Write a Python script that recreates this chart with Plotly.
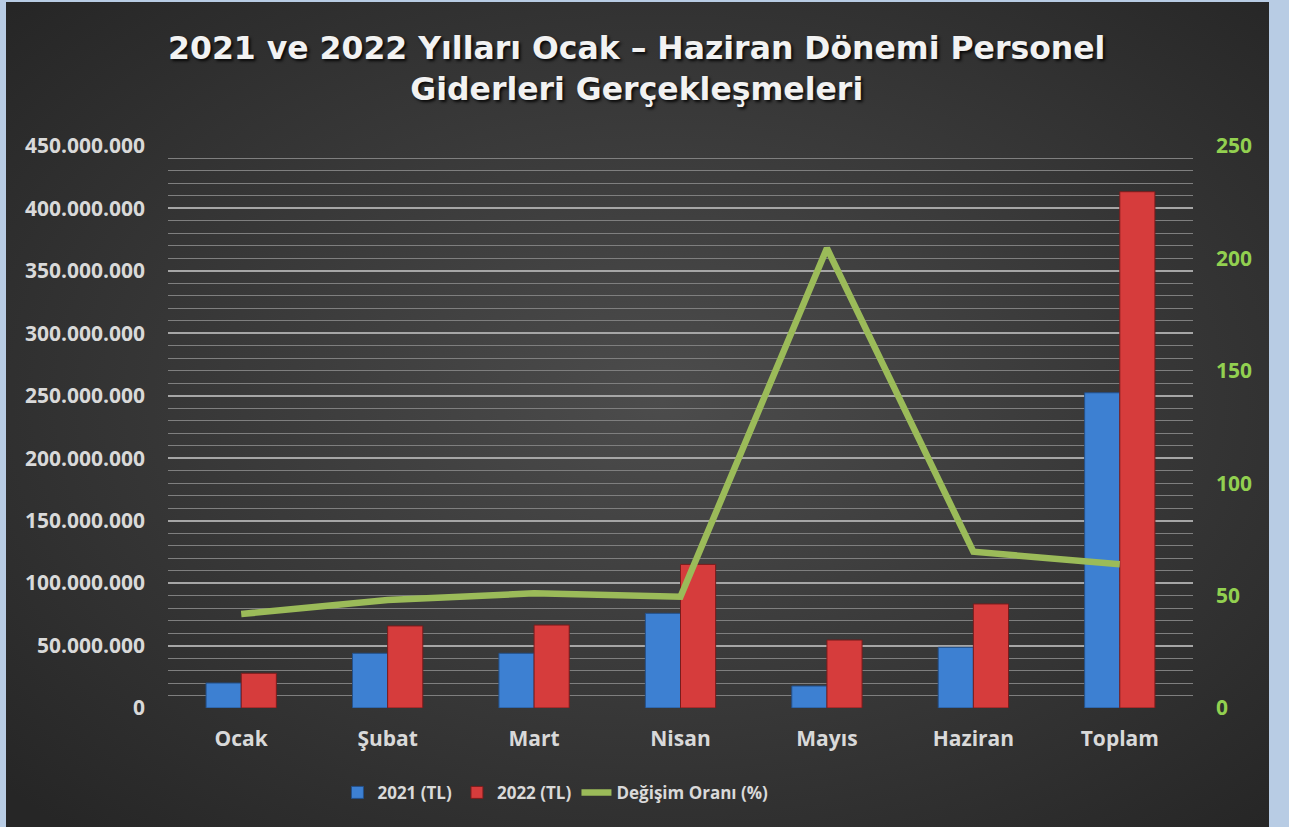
import base64
import plotly.graph_objects as go

categories = ["Ocak", "Şubat", "Mart", "Nisan", "Mayıs", "Haziran", "Toplam"]
values_2021 = [20_000_000, 43_800_000, 43_800_000, 75_800_000, 17_600_000, 48_600_000, 252_400_000]
values_2022 = [27_800_000, 65_700_000, 66_400_000, 115_000_000, 54_400_000, 83_300_000, 413_400_000]
change_pct = [41.8, 48.0, 51.0, 49.5, 204.5, 69.5, 63.9]

W, H = 1289, 827
L, R, T, B = 168, 96, 146, 119
pw, ph = W - L - R, H - T - B

svg = '''<svg xmlns="http://www.w3.org/2000/svg" width="1263" height="830" viewBox="0 0 1263 830">
<defs><radialGradient id="g" cx="52%" cy="48%" r="70%">
<stop offset="0%" stop-color="#4c4c4c"/><stop offset="100%" stop-color="#262626"/></radialGradient></defs>
<rect width="1263" height="830" fill="url(#g)"/></svg>'''
bg_uri = "data:image/svg+xml;base64," + base64.b64encode(svg.encode()).decode()

fig = go.Figure()
fig.add_trace(go.Bar(
    x=categories, y=values_2021, name="2021 (TL)",
    marker=dict(color="#3d80d2", line=dict(color="#24508a", width=1)),
))
fig.add_trace(go.Bar(
    x=categories, y=values_2022, name="2022 (TL)",
    marker=dict(color="#d63c3c", line=dict(color="#7a1c1c", width=1)),
))
fig.add_trace(go.Scatter(
    x=categories, y=change_pct, name="Değişim Oranı (%)", yaxis="y2",
    mode="lines", line=dict(color="#9bbb59", width=6.5),
))

tick_font = dict(family="Open Sans", size=21, color="#d9d9d9", weight="bold")

fig.update_layout(
    width=W, height=H,
    margin=dict(l=L, r=R, t=T, b=B),
    paper_bgcolor="#b8cce4",
    plot_bgcolor="rgba(0,0,0,0)",
    separators=",.",
    barmode="group", bargap=0.52, bargroupgap=0,
    title=dict(
        text="2021 ve 2022 Yılları Ocak – Haziran Dönemi Personel<br>Giderleri Gerçekleşmeleri",
        x=0.494, xanchor="center", y=0.929, yanchor="top",
        font=dict(family="DejaVu Sans", size=31.5, color="#f2f2f2", weight="bold",
                  shadow="2px 2px 3px rgba(0,0,0,0.85)"),
    ),
    xaxis=dict(
        showgrid=False, zeroline=False, showline=False,
        tickfont=tick_font, ticklabelstandoff=16,
    ),
    yaxis=dict(
        range=[0, 450_000_000], dtick=50_000_000, tickformat=",d",
        showgrid=True, gridcolor="#a6a6a6", gridwidth=2,
        minor=dict(dtick=10_000_000, showgrid=True, gridcolor="#7f7f7f", gridwidth=1),
        zeroline=False, showline=False,
        tickfont=tick_font, ticklabelstandoff=22,
    ),
    yaxis2=dict(
        overlaying="y", side="right", range=[0, 250], dtick=50,
        showgrid=False, zeroline=False, showline=False,
        tickfont=dict(family="Open Sans", size=21, color="#92d050", weight="bold"),
        ticklabelstandoff=22,
    ),
    legend=dict(
        orientation="h", x=0.378, xanchor="center", y=-0.151, yanchor="middle",
        font=dict(family="Open Sans", size=17, color="#d9d9d9", weight="bold"),
        bgcolor="rgba(0,0,0,0)", traceorder="normal",
    ),
    images=[dict(
        source=bg_uri, xref="paper", yref="paper",
        x=(6 - L) / pw, y=(H - B - 2) / ph,
        sizex=1263 / pw, sizey=830 / ph,
        xanchor="left", yanchor="top", sizing="stretch", layer="below",
    )],
)

fig.write_html(
    "out.html",
    config={"displayModeBar": False},
    post_script="document.body.style.margin='0';document.body.style.overflow='hidden';",
)
